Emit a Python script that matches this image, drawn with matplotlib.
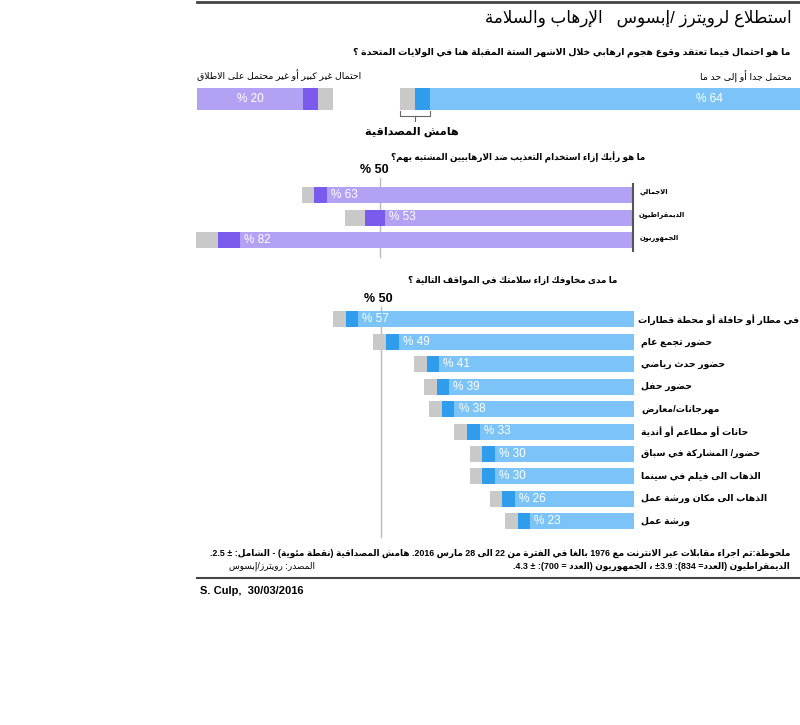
import re
import matplotlib
matplotlib.use('Agg')
import matplotlib.pyplot as plt

plt.rcParams['font.family'] = ['Liberation Sans', 'DejaVu Sans']

W, H = 800, 725

# ---------------- data ----------------
title = 'استطلاع لرويترز /إبسوس   الإرهاب والسلامة'

q1 = 'ما هو احتمال فيما تعتقد وقوع هجوم ارهابي خلال الاشهر الستة المقبلة هنا في الولايات المتحدة ؟'
q1_labels = ['احتمال غير كبير أو غير محتمل على الاطلاق', 'محتمل جدا أو إلى حد ما']
q1_values = [20, 64]
q1_margin = 2.5
margin_label = 'هامش المصداقية'

q2 = 'ما هو رأيك إزاء استخدام التعذيب ضد الارهابيين المشتبه بهم؟'
q2_groups = ['الاجمالي', 'الديمقراطيون', 'الجمهوريون']
q2_values = [63, 53, 82]
q2_margins = [2.5, 3.9, 4.3]

q3 = 'ما مدى مخاوفك ازاء سلامتك في المواقف التالية ؟'
q3_places = ['في مطار أو حافلة أو محطة قطارات', 'حضور تجمع عام', 'حضور حدث رياضي',
             'حضور حفل', 'مهرجانات/معارض', 'حانات أو مطاعم أو أندية',
             'حضور/ المشاركة في سباق', 'الذهاب الى فيلم في سينما',
             'الذهاب الى مكان ورشة عمل', 'ورشة عمل']
q3_values = [57, 49, 41, 39, 38, 33, 30, 30, 26, 23]
q3_margin = 2.5
ref_value = 50

note1 = ('ملحوظة:تم اجراء مقابلات عبر الانترنت مع 1976 بالغا في الفترة من 22 الى 28 مارس 2016. '
         'هامش المصداقية (نقطة مئوية) - الشامل: ± 2.5.')
note2 = 'الديمقراطيون (العدد= 834): ±3.9 ، الجمهوريون (العدد = 700): ± 4.3.'
source = 'المصدر: رويترز/إبسوس'
credit = 'S. Culp,  30/03/2016'

# colours
purple, purple_dk = '#B3A1F4', '#7A5BEE'
blue, blue_dk = '#7CC4F7', '#2F9CEC'
grey = '#C9C9C9'


# ---------------- arabic shaping (matplotlib has no text shaping) ----------------
def _form_table():
    counts = [1, 2, 2, 2, 2, 4, 2, 4, 2, 4, 4, 4, 4, 4, 2, 2, 2, 2, 4, 4, 4, 4, 4, 4, 4, 4] \
        + [4, 4, 4, 4, 4, 4, 4, 2, 2, 4]
    letters = [chr(c) for c in range(0x621, 0x63B)] + [chr(c) for c in range(0x641, 0x64B)]
    table, code = {}, 0xFE80
    for ch, n in zip(letters, counts):
        table[ch] = [chr(code + k) for k in range(n)]
        code += n
    return table


FORMS = _form_table()
LAM_ALEF = {'\u0622': 0xFEF5, '\u0623': 0xFEF7, '\u0625': 0xFEF9, '\u0627': 0xFEFB}


def shape_run(run):
    units, i = [], 0
    while i < len(run):
        if run[i] == '\u0644' and i + 1 < len(run) and run[i + 1] in LAM_ALEF:
            c = LAM_ALEF[run[i + 1]]
            units.append(([chr(c), chr(c + 1)], 'R'))
            i += 2
            continue
        f = FORMS.get(run[i], [run[i]])
        units.append((f, {4: 'D', 2: 'R'}.get(len(f), 'U')))
        i += 1
    out = []
    for k, (f, jt) in enumerate(units):
        prev = k > 0 and units[k - 1][1] == 'D' and jt in 'DR'
        nxt = jt == 'D' and k + 1 < len(units) and units[k + 1][1] in 'DR'
        idx = 3 if (prev and nxt) else 1 if prev else 2 if nxt else 0
        out.append(f[idx])
    return ''.join(out)


def rtl(s):
    s = re.sub('[\u0621-\u064A]+', lambda m: shape_run(m.group()), s)
    toks = re.findall(r'±?\d+(?:[.,]\d+)*|.', s)
    mirror = {'(': ')', ')': '('}
    return ''.join(mirror.get(t, t) for t in reversed(toks))


# ---------------- figure ----------------
fig = plt.figure(figsize=(8, 7.25), dpi=100)
renderer = fig.canvas.get_renderer()


def ftext(x, y, s, **kw):
    return fig.text(x / W, 1 - y / H, s, va='center', **kw)


def fit(t, width):
    w = t.get_window_extent(renderer).width
    t.set_fontsize(t.get_fontsize() * width / w)
    return t.get_fontsize()


# rules
fig.add_artist(plt.Line2D([197 / W, 1], [1 - 2 / H] * 2, color='#444444', lw=2))
fig.add_artist(plt.Line2D([197 / W, 1], [1 - 578 / H] * 2, color='#444444', lw=1.5))

t = ftext(792, 18, rtl(title), ha='right', fontsize=12)
fit(t, 305)
t = ftext(790, 52, rtl(q1), ha='right', fontsize=8, weight='bold')
fit(t, 440)
t = ftext(197, 75, rtl(q1_labels[0]), ha='left', fontsize=6)
small = fit(t, 165)
ftext(792, 77, rtl(q1_labels[1]), ha='right', fontsize=small)

# ---- panel 1: two bars from opposite ends ----
ax1 = fig.add_axes([197 / W, 1 - 111 / H, 605 / W, 24 / H])
ax1.set_xlim(0, 100)
ax1.set_ylim(-0.5, 0.5)
ax1.axis('off')
v_un, v_li = q1_values
m = q1_margin
h1 = 0.92
ax1.barh(0, v_un - m, height=h1, color=purple)
ax1.barh(0, m, left=v_un - m, height=h1, color=purple_dk)
ax1.barh(0, m, left=v_un, height=h1, color=grey)
ax1.barh(0, v_li - m, left=100 - (v_li - m), height=h1, color=blue)
ax1.barh(0, m, left=100 - v_li, height=h1, color=blue_dk)
ax1.barh(0, m, left=100 - v_li - m, height=h1, color=grey)
ax1.text((v_un - m) / 2, 0, rtl(f'{v_un} %'), ha='center', va='center', color='white', fontsize=8.5)
ax1.text(100 - 0.25 * (v_li - m), 0, rtl(f'{v_li} %'), ha='center', va='center',
         color='white', fontsize=8.5)
# margin-of-error bracket
b0, b1, bc = 100 - v_li - m, 100 - v_li + m, 100 - v_li
ax1.plot([b0, b0, b1, b1], [-0.5, -0.72, -0.72, -0.5], color='#666666', lw=0.8, clip_on=False)
ax1.plot([bc, bc], [-0.72, -0.9], color='#666666', lw=0.8, clip_on=False)
ftext(412, 132, rtl(margin_label), ha='center', fontsize=small * 1.2, weight='bold')

# ---- panel 2 ----
scale = 5.06  # px per percentage point
t = ftext(645, 157, rtl(q2), ha='right', fontsize=8, weight='bold')
fit(t, 255)
ax2 = fig.add_axes([190 / W, 1 - 251.25 / H, 443 / W, 67.5 / H])
ax2.set_xlim(443 / scale, 0)
ax2.set_ylim(len(q2_values) - 0.5, -0.5)
for sp in ['top', 'left', 'bottom']:
    ax2.spines[sp].set_visible(False)
ax2.spines['right'].set_color('#555555')
ax2.spines['right'].set_linewidth(1.5)
ax2.set_xticks([])
ax2.set_yticks([])
ax2.patch.set_alpha(0)
h2 = 16 / 22.5
y2 = range(len(q2_values))
lo2 = [v - mm for v, mm in zip(q2_values, q2_margins)]
ax2.axvline(ref_value, ymin=-0.09, ymax=1.09, color='#BBBBBB', lw=1, clip_on=False, zorder=0)
ax2.barh(y2, lo2, height=h2, color=purple)
ax2.barh(y2, q2_margins, left=lo2, height=h2, color=purple_dk)
ax2.barh(y2, q2_margins, left=q2_values, height=h2, color=grey)
for i, (v, l) in enumerate(zip(q2_values, lo2)):
    ax2.annotate(rtl(f'{v} %'), (l, i), xytext=(3, 0), textcoords='offset points',
                 ha='left', va='center', color='white', fontsize=8.5)
t = ax2.annotate(rtl(q2_groups[1]), (0, 1), xytext=(4, 2), textcoords='offset points',
                 ha='left', va='center', fontsize=6, weight='bold')
gsize = fit(t, 46)
for i in (0, 2):
    ax2.annotate(rtl(q2_groups[i]), (0, i), xytext=(5, 2), textcoords='offset points',
                 ha='left', va='center', fontsize=gsize, weight='bold')
ftext(374, 170, rtl(f'{ref_value} %'), ha='center', fontsize=9, weight='bold')

# ---- panel 3 ----
t = ftext(617, 280, rtl(q3), ha='right', fontsize=8, weight='bold')
fit(t, 212)
ax3 = fig.add_axes([190 / W, 1 - 532.3 / H, 444 / W, 224 / H])
ax3.set_xlim(444 / scale, 0)
ax3.set_ylim(len(q3_values) - 0.5, -0.5)
ax3.axis('off')
h3 = 16 / 22.4
y3 = range(len(q3_values))
lo3 = [v - q3_margin for v in q3_values]
ax3.axvline(ref_value, ymin=-0.02, ymax=1.006, color='#BBBBBB', lw=1, clip_on=False, zorder=0)
ax3.barh(y3, lo3, height=h3, color=blue)
ax3.barh(y3, q3_margin, left=lo3, height=h3, color=blue_dk)
ax3.barh(y3, q3_margin, left=q3_values, height=h3, color=grey)
for i, (v, l) in enumerate(zip(q3_values, lo3)):
    ax3.annotate(rtl(f'{v} %'), (l, i), xytext=(3, 0), textcoords='offset points',
                 ha='left', va='center', color='white', fontsize=8.5)
t = ax3.annotate(rtl(q3_places[0]), (0, 0), xytext=(3, 0), textcoords='offset points',
                 ha='left', va='center', fontsize=8, weight='bold')
psize = fit(t, 162)
for i, lab in enumerate(q3_places[1:], start=1):
    ax3.annotate(rtl(lab), (0, i), xytext=(5, 0), textcoords='offset points',
                 ha='left', va='center', fontsize=psize, weight='bold')
ftext(378, 299, rtl(f'{ref_value} %'), ha='center', fontsize=9, weight='bold')

# ---- notes ----
t = ftext(790, 553, rtl(note1), ha='right', fontsize=7, weight='bold')
nsize = fit(t, 587)
ftext(790, 566, rtl(note2), ha='right', fontsize=nsize, weight='bold')
ftext(229, 566, rtl(source), ha='left', fontsize=nsize)
ftext(200, 591, credit, ha='left', fontsize=8, weight='bold')

fig.savefig('out.png', dpi=100)
